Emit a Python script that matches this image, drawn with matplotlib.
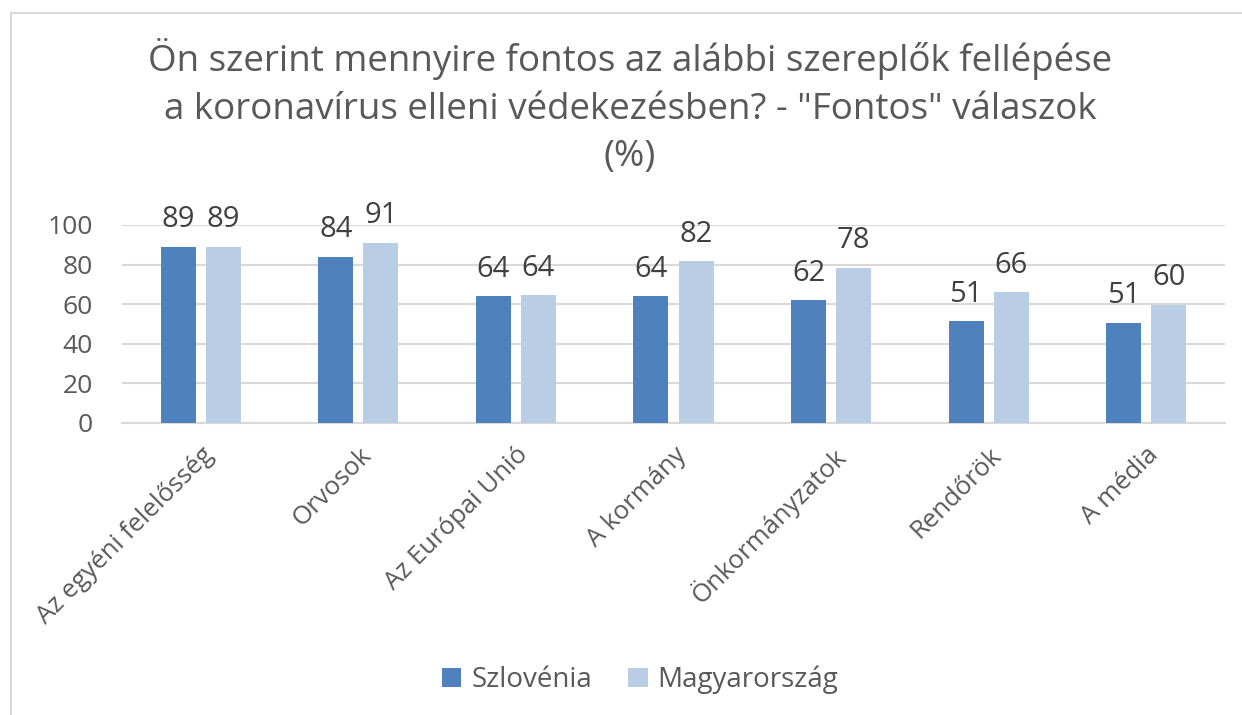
import matplotlib
matplotlib.use("Agg")
import matplotlib.pyplot as plt
import numpy as np
from matplotlib.lines import Line2D

categories = ["Az egyéni felelősség", "Orvosok", "Az Európai Unió", "A kormány",
              "Önkormányzatok", "Rendőrök", "A média"]
series_names = ["Szlovénia", "Magyarország"]
slovenia = [89, 84, 64, 64, 62, 51.4, 50.6]
hungary = [89, 91, 64.4, 81.6, 78.4, 66, 59.6]
yticks = [0, 20, 40, 60, 80, 100]
title = 'Ön szerint mennyire fontos az alábbi szereplők fellépése\na koronavírus elleni védekezésben? - "Fontos" válaszok\n(%)'

c_slo = "#4F81BD"
c_hun = "#B9CDE5"
txt = "#595959"
lbl = "#404040"
grid = "#D9D9D9"

plt.rcParams['font.family'] = ['Open Sans', 'DejaVu Sans']

W, H = 1242, 715
fig = plt.figure(figsize=(W / 100, H / 100), dpi=100)
ax = fig.add_axes([122 / W, 1 - 423 / H, (1225 - 122) / W, (423 - 225) / H])

x = np.arange(len(categories))
bw = 0.222
off = 0.143
b1 = ax.bar(x - off, slovenia, bw, color=c_slo, label=series_names[0], zorder=3)
b2 = ax.bar(x + off, hungary, bw, color=c_hun, label=series_names[1], zorder=3)
for bars in (b1, b2):
    for r in bars:
        v = r.get_height()
        ax.annotate(f"{v:.0f}", (r.get_x() + r.get_width() / 2, v),
                    xytext=(0, 9), textcoords="offset points",
                    ha="center", va="bottom", fontsize=21, color=lbl,
                    annotation_clip=False)

ax.set_xlim(-0.5, len(categories) - 0.5)
ax.set_ylim(0, 100)
ax.set_yticks(yticks)
ax.set_yticklabels([str(t) for t in yticks], fontsize=19, color=txt)
ax.set_xticks(x)
ax.set_xticklabels(categories, rotation=45, ha="right", rotation_mode="anchor",
                   fontsize=18.5, color=txt)
ax.tick_params(axis="both", length=0)
ax.tick_params(axis="y", pad=21)
ax.tick_params(axis="x", pad=14)
ax.grid(axis="y", color=grid, linewidth=1.5, zorder=0)
ax.set_axisbelow(True)
for s in ["top", "right", "left"]:
    ax.spines[s].set_visible(False)
ax.spines["bottom"].set_color(grid)
ax.spines["bottom"].set_linewidth(1.5)

fig.text(630 / W, 1 - 38 / H, title, ha="center", va="top", fontsize=26.5,
         color=txt, linespacing=1.43)

leg = fig.legend(handles=[b1, b2], labels=series_names, loc="center",
                 bbox_to_anchor=(640 / W, 1 - 680 / H), ncol=2, frameon=False,
                 fontsize=20, handlelength=0.7, handleheight=0.7,
                 handletextpad=0.35, columnspacing=1.3)
for t in leg.get_texts():
    t.set_color(txt)

fig.add_artist(Line2D([11 / W, 1], [1 - 12.5 / H, 1 - 12.5 / H],
                      transform=fig.transFigure, color=grid, linewidth=1.5))
fig.add_artist(Line2D([11 / W, 11 / W], [0, 1 - 12.5 / H],
                      transform=fig.transFigure, color=grid, linewidth=1.5))

fig.savefig("out.png", dpi=100, facecolor="white")
